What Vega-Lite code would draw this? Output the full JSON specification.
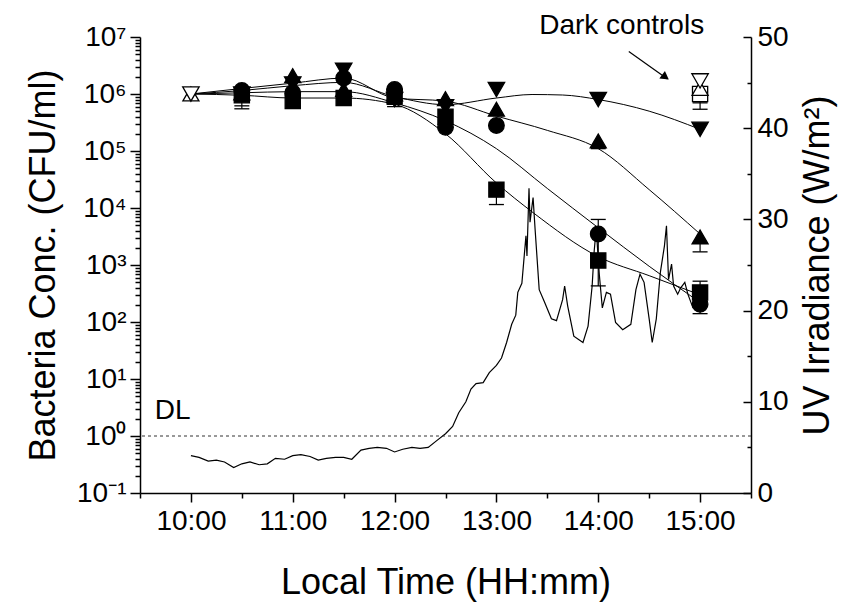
{
  "$schema": "https://vega.github.io/schema/vega-lite/v6.json",
  "width": 611,
  "height": 456,
  "autosize": {"type": "none"},
  "padding": {"left": 140, "top": 37, "right": 116, "bottom": 115},
  "background": "white",
  "config": {
    "font": "Liberation Sans",
    "view": {"stroke": null},
    "axis": {"grid": false, "domainColor": "black", "tickColor": "black", "labelColor": "black", "titleColor": "black", "domainWidth": 1.5, "tickWidth": 1.5, "labelFontWeight": "normal", "titleFontWeight": "normal", "labelFont": "Liberation Sans", "titleFont": "Liberation Sans"}
  },
  "datasets": {
    "uv": [
      {"t": 10.0, "uv": 4.1}, {"t": 10.08, "uv": 3.9}, {"t": 10.17, "uv": 3.5}, {"t": 10.25, "uv": 3.6}, {"t": 10.33, "uv": 3.4},
      {"t": 10.42, "uv": 2.8}, {"t": 10.5, "uv": 3.2}, {"t": 10.58, "uv": 3.4}, {"t": 10.67, "uv": 3.1}, {"t": 10.75, "uv": 3.2},
      {"t": 10.83, "uv": 3.8}, {"t": 10.92, "uv": 3.7}, {"t": 11.0, "uv": 4.1}, {"t": 11.08, "uv": 4.2}, {"t": 11.17, "uv": 4.0},
      {"t": 11.25, "uv": 3.6}, {"t": 11.33, "uv": 3.8}, {"t": 11.42, "uv": 3.9}, {"t": 11.5, "uv": 3.9}, {"t": 11.58, "uv": 3.7},
      {"t": 11.67, "uv": 4.7}, {"t": 11.75, "uv": 4.9}, {"t": 11.83, "uv": 5.0}, {"t": 11.92, "uv": 4.9}, {"t": 12.0, "uv": 4.5},
      {"t": 12.08, "uv": 4.8}, {"t": 12.17, "uv": 5.0}, {"t": 12.25, "uv": 4.9}, {"t": 12.33, "uv": 5.0}, {"t": 12.42, "uv": 5.8},
      {"t": 12.5, "uv": 6.5}, {"t": 12.57, "uv": 7.3}, {"t": 12.63, "uv": 8.8}, {"t": 12.7, "uv": 10.0}, {"t": 12.75, "uv": 11.4},
      {"t": 12.8, "uv": 12.0}, {"t": 12.87, "uv": 12.1}, {"t": 12.93, "uv": 13.2}, {"t": 13.0, "uv": 14.0}, {"t": 13.05, "uv": 14.8},
      {"t": 13.1, "uv": 16.5}, {"t": 13.15, "uv": 18.5}, {"t": 13.19, "uv": 19.5}, {"t": 13.21, "uv": 22.0}, {"t": 13.25, "uv": 23.0},
      {"t": 13.29, "uv": 28.2}, {"t": 13.3, "uv": 26.0}, {"t": 13.32, "uv": 33.4}, {"t": 13.33, "uv": 29.7}, {"t": 13.36, "uv": 32.4},
      {"t": 13.38, "uv": 28.9}, {"t": 13.42, "uv": 22.3}, {"t": 13.47, "uv": 21.0}, {"t": 13.54, "uv": 19.1}, {"t": 13.59, "uv": 18.9},
      {"t": 13.65, "uv": 21.2}, {"t": 13.67, "uv": 22.7}, {"t": 13.7, "uv": 20.5}, {"t": 13.76, "uv": 17.2}, {"t": 13.85, "uv": 16.5},
      {"t": 13.9, "uv": 18.3}, {"t": 13.94, "uv": 22.7}, {"t": 13.96, "uv": 26.5}, {"t": 13.98, "uv": 29.0}, {"t": 14.01, "uv": 24.0},
      {"t": 14.04, "uv": 20.3}, {"t": 14.08, "uv": 22.0}, {"t": 14.12, "uv": 21.8}, {"t": 14.17, "uv": 18.7}, {"t": 14.24, "uv": 17.9},
      {"t": 14.32, "uv": 18.5}, {"t": 14.37, "uv": 22.3}, {"t": 14.41, "uv": 24.0}, {"t": 14.45, "uv": 23.1}, {"t": 14.5, "uv": 19.1},
      {"t": 14.53, "uv": 16.5}, {"t": 14.57, "uv": 19.1}, {"t": 14.61, "uv": 24.2}, {"t": 14.65, "uv": 27.1}, {"t": 14.67, "uv": 29.3},
      {"t": 14.69, "uv": 23.4}, {"t": 14.72, "uv": 25.1}, {"t": 14.74, "uv": 22.7}, {"t": 14.78, "uv": 21.8}, {"t": 14.81, "uv": 22.5},
      {"t": 14.85, "uv": 23.1}, {"t": 14.88, "uv": 21.8}, {"t": 14.93, "uv": 20.3}, {"t": 14.96, "uv": 20.2}
    ],
    "curves": [
      {"s": "dn", "t": 10.0, "v": 1000000}, {"s": "dn", "t": 10.5, "v": 1150000}, {"s": "dn", "t": 11.0, "v": 1400000}, {"s": "dn", "t": 11.5, "v": 1600000},
      {"s": "dn", "t": 12.0, "v": 900000}, {"s": "dn", "t": 12.5, "v": 650000}, {"s": "dn", "t": 13.0, "v": 850000}, {"s": "dn", "t": 13.35, "v": 980000},
      {"s": "dn", "t": 13.65, "v": 960000}, {"s": "dn", "t": 14.0, "v": 800000}, {"s": "dn", "t": 14.5, "v": 500000}, {"s": "dn", "t": 15.0, "v": 240000},
      {"s": "up", "t": 10.0, "v": 1000000}, {"s": "up", "t": 10.5, "v": 1250000}, {"s": "up", "t": 11.0, "v": 1550000}, {"s": "up", "t": 11.5, "v": 1900000},
      {"s": "up", "t": 12.0, "v": 850000}, {"s": "up", "t": 12.5, "v": 750000}, {"s": "up", "t": 13.0, "v": 410000}, {"s": "up", "t": 13.5, "v": 230000},
      {"s": "up", "t": 14.0, "v": 110000}, {"s": "up", "t": 14.5, "v": 21000}, {"s": "up", "t": 15.0, "v": 3500},
      {"s": "ci", "t": 10.0, "v": 1000000}, {"s": "ci", "t": 10.5, "v": 1050000}, {"s": "ci", "t": 11.0, "v": 1100000}, {"s": "ci", "t": 11.5, "v": 1100000},
      {"s": "ci", "t": 12.0, "v": 700000}, {"s": "ci", "t": 12.5, "v": 340000}, {"s": "ci", "t": 13.0, "v": 110000}, {"s": "ci", "t": 13.5, "v": 22000},
      {"s": "ci", "t": 14.0, "v": 4500}, {"s": "ci", "t": 14.5, "v": 950}, {"s": "ci", "t": 15.0, "v": 220},
      {"s": "sq", "t": 10.0, "v": 1000000}, {"s": "sq", "t": 10.5, "v": 950000}, {"s": "sq", "t": 11.0, "v": 850000}, {"s": "sq", "t": 11.5, "v": 850000},
      {"s": "sq", "t": 12.0, "v": 660000}, {"s": "sq", "t": 12.5, "v": 200000}, {"s": "sq", "t": 13.0, "v": 27500}, {"s": "sq", "t": 13.36, "v": 8300},
      {"s": "sq", "t": 14.0, "v": 1400}, {"s": "sq", "t": 14.5, "v": 650}, {"s": "sq", "t": 15.0, "v": 300}
    ],
    "points": [
      {"t": 10.5, "s": "dn", "v": 1000000, "k": "f"}, {"t": 10.5, "s": "up", "v": 1050000, "k": "f"}, {"t": 10.5, "s": "sq", "v": 950000, "k": "f"}, {"t": 10.5, "s": "ci", "v": 1150000, "k": "f"},
      {"t": 11.0, "s": "dn", "v": 1500000, "k": "f"}, {"t": 11.0, "s": "sq", "v": 750000, "k": "f"}, {"t": 11.0, "s": "ci", "v": 1050000, "k": "f"}, {"t": 11.0, "s": "up", "v": 2100000, "k": "f"},
      {"t": 11.5, "s": "sq", "v": 850000, "k": "f"}, {"t": 11.5, "s": "up", "v": 1200000, "k": "f"}, {"t": 11.5, "s": "ci", "v": 1900000, "k": "f"}, {"t": 11.5, "s": "dn", "v": 2600000, "k": "f"},
      {"t": 12.0, "s": "dn", "v": 800000, "k": "f"}, {"t": 12.0, "s": "sq", "v": 900000, "k": "f"}, {"t": 12.0, "s": "up", "v": 1000000, "k": "f"}, {"t": 12.0, "s": "ci", "v": 1200000, "k": "f"},
      {"t": 12.5, "s": "dn", "v": 600000, "k": "f"}, {"t": 12.5, "s": "up", "v": 830000, "k": "f"}, {"t": 12.5, "s": "sq", "v": 400000, "k": "f"}, {"t": 12.5, "s": "ci", "v": 260000, "k": "f"},
      {"t": 13.0, "s": "dn", "v": 1200000, "k": "f"}, {"t": 13.0, "s": "up", "v": 540000, "k": "f"}, {"t": 13.0, "s": "ci", "v": 280000, "k": "f"}, {"t": 13.0, "s": "sq", "v": 21000, "k": "f"},
      {"t": 14.0, "s": "dn", "v": 800000, "k": "f"}, {"t": 14.0, "s": "up", "v": 150000, "k": "f"}, {"t": 14.0, "s": "ci", "v": 3500, "k": "f"}, {"t": 14.0, "s": "sq", "v": 1200, "k": "f"},
      {"t": 15.0, "s": "dn", "v": 240000, "k": "f"}, {"t": 15.0, "s": "up", "v": 3100, "k": "f"}, {"t": 15.0, "s": "sq", "v": 330, "k": "f"}, {"t": 15.0, "s": "ci", "v": 205, "k": "f"},
      {"t": 10.0, "s": "up", "v": 1000000, "k": "o"}, {"t": 10.0, "s": "dn", "v": 1000000, "k": "o"},
      {"t": 15.0, "s": "sq", "v": 1000000, "k": "o"}, {"t": 15.0, "s": "up", "v": 1250000, "k": "o"}, {"t": 15.0, "s": "dn", "v": 1700000, "k": "o"}
    ],
    "err": [
      {"t": 10.0, "lo": 800000, "hi": 1000000}, {"t": 10.5, "lo": 550000, "hi": 1000000}, {"t": 12.0, "lo": 600000, "hi": 1000000},
      {"t": 13.0, "lo": 11500, "hi": 21000}, {"t": 14.0, "lo": 110000, "hi": 150000}, {"t": 14.0, "lo": 430, "hi": 6300},
      {"t": 15.0, "lo": 540000, "hi": 1700000}, {"t": 15.0, "lo": 1700, "hi": 3100}, {"t": 15.0, "lo": 140, "hi": 520}
    ],
    "caps": [
      {"t": 10.5, "c": 550000}, {"t": 10.5, "c": 620000}, {"t": 12.0, "c": 600000}, {"t": 12.0, "c": 660000},
      {"t": 13.0, "c": 11500}, {"t": 14.0, "c": 110000}, {"t": 14.0, "c": 430}, {"t": 14.0, "c": 6300},
      {"t": 15.0, "c": 540000}, {"t": 15.0, "c": 700000}, {"t": 15.0, "c": 800000}, {"t": 15.0, "c": 1700}, {"t": 15.0, "c": 140}, {"t": 15.0, "c": 520}
    ]
  },
  "resolve": {"scale": {"y": "independent"}, "axis": {"x": "independent", "y": "independent"}},
  "layer": [
    {
      "data": {"name": "uv"},
      "mark": {"type": "line", "color": "black", "strokeWidth": 1.2},
      "encoding": {
        "x": {"field": "t", "type": "quantitative", "scale": {"domain": [9.5, 15.5], "nice": false, "zero": false}, "axis": null},
        "y": {"field": "uv", "type": "quantitative", "scale": {"domain": [0, 50], "nice": false}, "axis": {"orient": "right", "values": [0, 10, 20, 30, 40, 50], "tickSize": -8, "labelPadding": 14, "labelFontSize": 28, "title": "UV Irradiance (W/m²)", "titleFontSize": 36, "titleAngle": 270, "titleBaseline": "top", "titlePadding": 12}}
      }
    },
    {
      "data": {"values": [{"t1": 14.3, "u1": 48.4, "t2": 14.68, "u2": 45.4}]},
      "mark": {"type": "rule", "color": "black", "strokeWidth": 1.2},
      "encoding": {
        "x": {"field": "t1", "type": "quantitative", "scale": {"domain": [9.5, 15.5], "nice": false, "zero": false}, "axis": null},
        "x2": {"field": "t2"},
        "y": {"field": "u1", "type": "quantitative", "scale": {"domain": [0, 50], "nice": false}, "axis": {"orient": "right", "values": [5, 15, 25, 35, 45], "tickSize": -4, "labels": false, "domain": false, "title": null}},
        "y2": {"field": "u2"}
      }
    },
    {
      "data": {"values": [{"t2": 14.66, "u2": 45.6}]},
      "mark": {"type": "point", "shape": "triangle-right", "angle": 36, "filled": true, "color": "black", "size": 90, "opacity": 1},
      "encoding": {
        "x": {"field": "t2", "type": "quantitative", "scale": {"domain": [9.5, 15.5], "nice": false, "zero": false}, "axis": null},
        "y": {"field": "u2", "type": "quantitative", "scale": {"domain": [0, 50], "nice": false}, "axis": null}
      }
    },
    {
      "data": {"values": [{"t": 14.23, "u": 50.3, "label": "Dark controls"}]},
      "mark": {"type": "text", "fontSize": 28, "align": "center", "baseline": "alphabetic", "color": "black", "font": "Liberation Sans"},
      "encoding": {
        "x": {"field": "t", "type": "quantitative", "scale": {"domain": [9.5, 15.5], "nice": false, "zero": false}, "axis": null},
        "y": {"field": "u", "type": "quantitative", "scale": {"domain": [0, 50], "nice": false}, "axis": null},
        "text": {"field": "label"}
      }
    },
    {
      "data": {"values": [{"dl": 1}]},
      "mark": {"type": "rule", "color": "#333333", "strokeWidth": 1, "strokeDash": [3, 3]},
      "encoding": {
        "y": {"field": "dl", "type": "quantitative", "scale": {"type": "log", "domain": [0.1, 10000000], "nice": false}, "axis": null}
      }
    },
    {
      "data": {"values": [{"t": 9.645, "v": 2.0, "label": "DL"}]},
      "mark": {"type": "text", "fontSize": 28, "align": "left", "baseline": "alphabetic", "color": "black", "font": "Liberation Sans"},
      "encoding": {
        "x": {"field": "t", "type": "quantitative", "scale": {"domain": [9.5, 15.5], "nice": false, "zero": false}, "axis": null},
        "y": {"field": "v", "type": "quantitative", "scale": {"type": "log", "domain": [0.1, 10000000], "nice": false}, "axis": null},
        "text": {"field": "label"}
      }
    },
    {
      "data": {"name": "curves"},
      "mark": {"type": "line", "color": "black", "strokeWidth": 1, "interpolate": "monotone"},
      "encoding": {
        "x": {"field": "t", "type": "quantitative", "scale": {"domain": [9.5, 15.5], "nice": false, "zero": false}, "axis": {"orient": "bottom", "values": [10, 11, 12, 13, 14, 15], "labelExpr": "datum.value + ':00'", "tickSize": 9, "labelPadding": 5, "labelFontSize": 28, "title": "Local Time (HH:mm)", "titleFontSize": 36, "titlePadding": 30}},
        "y": {"field": "v", "type": "quantitative", "scale": {"type": "log", "domain": [0.1, 10000000], "nice": false}, "axis": {"orient": "left", "values": [0.1, 1, 10, 100, 1000, 10000, 100000, 1000000, 10000000], "labelExpr": "datum.value < 0.5 ? '10⁻¹' : datum.value < 5 ? '10⁰' : datum.value < 50 ? '10¹' : datum.value < 500 ? '10²' : datum.value < 5000 ? '10³' : datum.value < 50000 ? '10⁴' : datum.value < 500000 ? '10⁵' : datum.value < 5000000 ? '10⁶' : '10⁷'", "tickSize": 10, "labelPadding": 4, "labelFontSize": 28, "title": "Bacteria Conc. (CFU/ml)", "titleFontSize": 36, "titlePadding": 14}},
        "detail": {"field": "s"}
      }
    },
    {
      "data": {"name": "err"},
      "mark": {"type": "rule", "color": "black", "strokeWidth": 1.2},
      "encoding": {
        "x": {"field": "t", "type": "quantitative", "scale": {"domain": [9.5, 15.5], "nice": false, "zero": false}, "axis": {"orient": "bottom", "values": [9.5, 10.5, 11.5, 12.5, 13.5, 14.5, 15.5], "tickSize": 5, "labels": false, "domain": false, "title": null}},
        "y": {"field": "lo", "type": "quantitative", "scale": {"type": "log", "domain": [0.1, 10000000], "nice": false}, "axis": {"orient": "left", "values": [0.2, 0.3, 0.4, 0.5, 0.6, 0.7, 0.8, 0.9, 2, 3, 4, 5, 6, 7, 8, 9, 20, 30, 40, 50, 60, 70, 80, 90, 200, 300, 400, 500, 600, 700, 800, 900, 2000, 3000, 4000, 5000, 6000, 7000, 8000, 9000, 20000, 30000, 40000, 50000, 60000, 70000, 80000, 90000, 200000, 300000, 400000, 500000, 600000, 700000, 800000, 900000, 2000000, 3000000, 4000000, 5000000, 6000000, 7000000, 8000000, 9000000], "tickSize": 5, "labels": false, "domain": false, "title": null}},
        "y2": {"field": "hi"}
      }
    },
    {
      "data": {"name": "caps"},
      "mark": {"type": "tick", "orient": "horizontal", "size": 15, "thickness": 1.3, "color": "black", "opacity": 1},
      "encoding": {
        "x": {"field": "t", "type": "quantitative", "scale": {"domain": [9.5, 15.5], "nice": false, "zero": false}, "axis": null},
        "y": {"field": "c", "type": "quantitative", "scale": {"type": "log", "domain": [0.1, 10000000], "nice": false}, "axis": null}
      }
    },
    {
      "data": {"name": "points"},
      "mark": {"type": "point", "stroke": "black", "strokeWidth": 1.3, "opacity": 1},
      "encoding": {
        "x": {"field": "t", "type": "quantitative", "scale": {"domain": [9.5, 15.5], "nice": false, "zero": false}, "axis": null},
        "y": {"field": "v", "type": "quantitative", "scale": {"type": "log", "domain": [0.1, 10000000], "nice": false}, "axis": null},
        "shape": {"field": "s", "type": "nominal", "scale": {"domain": ["sq", "ci", "up", "dn"], "range": ["square", "circle", "triangle-up", "triangle-down"]}, "legend": null},
        "size": {"field": "s", "type": "nominal", "scale": {"domain": ["sq", "ci", "up", "dn"], "range": [230, 270, 330, 330]}, "legend": null},
        "fill": {"field": "k", "type": "nominal", "scale": {"domain": ["f", "o"], "range": ["black", "white"]}, "legend": null}
      }
    }
  ]
}
